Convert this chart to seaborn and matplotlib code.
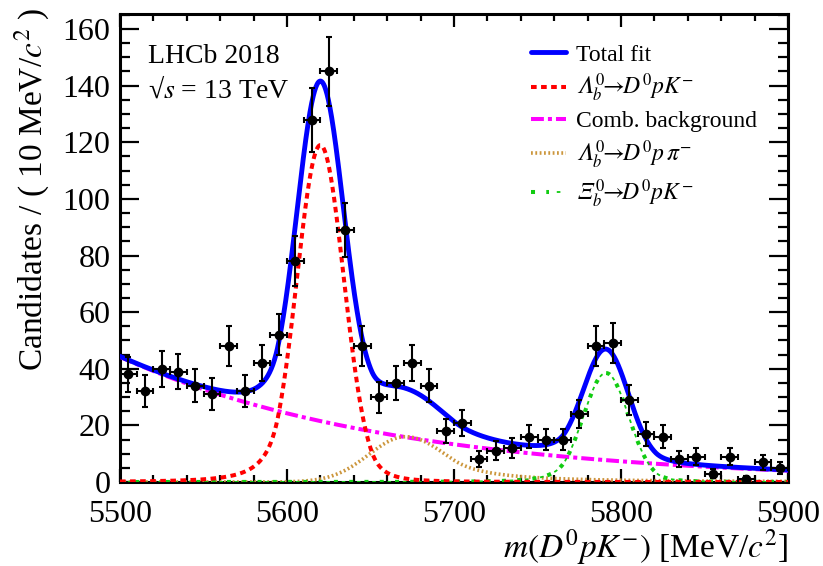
import numpy as np
import pandas as pd
import matplotlib
matplotlib.use("Agg")
import matplotlib.pyplot as plt
from matplotlib.ticker import MultipleLocator
from matplotlib.legend_handler import HandlerTuple
import seaborn as sns

# ---------------- data ----------------
bin_centers = [5505, 5515, 5525, 5535, 5545, 5555, 5565, 5575, 5585, 5595,
               5605, 5615, 5625, 5635, 5645, 5655, 5665, 5675, 5685, 5695,
               5705, 5715, 5725, 5735, 5745, 5755, 5765, 5775, 5785, 5795,
               5805, 5815, 5825, 5835, 5845, 5855, 5865, 5875, 5885, 5895]
counts = [38, 32, 40, 39, 34, 31, 48, 32, 42, 52,
          78, 128, 145, 89, 48, 30, 35, 42, 34, 18,
          21, 8, 11, 12, 16, 15, 15, 24, 48, 49,
          29, 17, 16, 8, 9, 3, 9, 1, 7, 5]
bin_half_width = 5

# fit-model parameters
comb_norm = 44.2          # combinatorial background at 5500
comb_slope = 0.006        # exponential slope per MeV
signal_means = [5620, 5791]     # Lambda_b, Xi_b
signal_sigmas = [14.0, 13.5]
signal_heights = [119.0, 38.5]
cb_tail = [1.8, 3.0, 2.2, 3.0]  # alphaL, nL, alphaR, nR
partreco_mean = 5671
partreco_height = 16.0
partreco_sigmas = [22.0, 24.0]
partreco_tail = [1.2, 2.0]

legend_labels = ["Total fit",
                 "$\U0001D6EC_b^0\\!\\!\\rightarrow\\!\\! D^0 pK^{-}$",
                 "Comb. background",
                 "$\U0001D6EC_b^0\\!\\!\\rightarrow\\!\\! D^0 p\\,\\pi^{-}$",
                 "$\U0001D6EF_b^0\\!\\!\\rightarrow\\!\\! D^0 pK^{-}$"]

# ---------------- model shapes ----------------
def dcb(x, mu, s, h, aL, nL, aR, nR):
    t = (x - mu) / s
    out = np.exp(-0.5 * t**2)
    AL = (nL / aL) ** nL * np.exp(-0.5 * aL**2); BL = nL / aL - aL
    AR = (nR / aR) ** nR * np.exp(-0.5 * aR**2); BR = nR / aR - aR
    m = t < -aL
    out[m] = AL * (BL - t[m]) ** (-nL)
    m = t > aR
    out[m] = AR * (BR + t[m]) ** (-nR)
    return h * out

def partreco(x, mu, h, sL, sR, a, n):
    out = np.empty_like(x)
    l = x < mu
    out[l] = np.exp(-0.5 * ((x[l] - mu) / sL) ** 2)
    t = (x[~l] - mu) / sR
    A = (n / a) ** n * np.exp(-0.5 * a**2); B = n / a - a
    out[~l] = np.where(t < a, np.exp(-0.5 * t**2), A * (B + np.clip(t, a, None)) ** (-n))
    return h * out

xg = np.linspace(5500, 5900, 1601)
comb = comb_norm * np.exp(-comb_slope * (xg - 5500))
lb = dcb(xg, signal_means[0], signal_sigmas[0], signal_heights[0], *cb_tail)
xib = dcb(xg, signal_means[1], signal_sigmas[1], signal_heights[1], *cb_tail)
pr = partreco(xg, partreco_mean, partreco_height, *partreco_sigmas, *partreco_tail)
total = comb + lb + xib + pr

curves = pd.DataFrame({"m": xg, "total": total, "lb": lb, "comb": comb, "pr": pr, "xib": xib})
data = pd.DataFrame({"m": bin_centers, "n": counts})
data["err"] = np.sqrt(data["n"])

# ---------------- styling ----------------
sns.set_theme(style="ticks")
plt.rcParams["font.family"] = ["Liberation Serif", "DejaVu Serif"]
plt.rcParams["mathtext.fontset"] = "stix"
for k in ["text.color", "axes.labelcolor", "xtick.color", "ytick.color",
          "xtick.labelcolor", "ytick.labelcolor", "axes.edgecolor"]:
    plt.rcParams[k] = "black"

fig = plt.figure(figsize=(8.23, 5.66), dpi=100)
ax = fig.add_axes([120 / 823, 1 - 482 / 566, 668 / 823, 468 / 566])

blue, red, mag, brown, green = "#0000ff", "#ff0000", "#ff00ff", "#cc963c", "#11cc11"

# green dash pattern: thick square dot + thin dash, same period (in points)
lw_dot, lw_dash = 2.9, 1.3
period = 11.0
dot_on = 2.9
dash_on, dash_start = 2.6, 5.6
green_dot_style = (0, (dot_on / lw_dot, (period - dot_on) / lw_dot))
green_dash_style = ((period - dash_start) / lw_dash,
                    (dash_on / lw_dash, (period - dash_on) / lw_dash))

sns.lineplot(data=curves, x="m", y="comb", ax=ax, color=mag, lw=2.9,
             linestyle=(0, (3.2, 1.0, 1.0, 1.0)), zorder=3)
sns.lineplot(data=curves, x="m", y="pr", ax=ax, color=brown, lw=2.6,
             linestyle=(0, (0.5, 0.7)), zorder=3)
sns.lineplot(data=curves, x="m", y="xib", ax=ax, color=green, lw=lw_dot,
             linestyle=green_dot_style, zorder=3)
sns.lineplot(data=curves, x="m", y="xib", ax=ax, color=green, lw=lw_dash,
             linestyle=green_dash_style, zorder=3)
sns.lineplot(data=curves, x="m", y="lb", ax=ax, color=red, lw=2.9,
             linestyle=(0, (1.4, 1.1)), zorder=4)
sns.lineplot(data=curves, x="m", y="total", ax=ax, color=blue, lw=3.5, zorder=5)

lines = ax.get_lines()
h_comb, h_pr, h_xa, h_xb, h_lb, h_tot = lines[:6]

ax.errorbar(data["m"], data["n"], yerr=data["err"], xerr=bin_half_width,
            fmt="o", color="black", ms=6, elinewidth=1.5, capsize=2.2,
            capthick=1.5, zorder=6)

ax.set_xlim(5500, 5900)
ax.set_ylim(0, 165.3)
ax.xaxis.set_major_locator(MultipleLocator(100))
ax.xaxis.set_minor_locator(MultipleLocator(20))
ax.yaxis.set_major_locator(MultipleLocator(20))
ax.yaxis.set_minor_locator(MultipleLocator(5))
ax.tick_params(which="both", direction="in", top=True, right=True, width=1.6, colors="black")
ax.tick_params(axis="x", which="major", length=9.5, pad=13, labelsize=23)
ax.tick_params(axis="x", which="minor", length=5)
ax.tick_params(axis="y", which="major", length=13.5, pad=7, labelsize=23)
ax.tick_params(axis="y", which="minor", length=7)
for sp in ax.spines.values():
    sp.set_linewidth(2.2)
    sp.set_color("black")
ax.set_xlabel("")
ax.set_ylabel("")

fig.text(788 / 823, 1 - 557 / 566, r"$m(D^0pK^{-})$ [MeV/$c^2$]", ha="right",
         va="baseline", fontsize=24)
fig.text(32 / 823, 1 - 8 / 566, r"Candidates / ( 10 MeV/$c^2$ )", rotation=90,
         ha="center", va="top", fontsize=24)

ax.text(0.042, 0.895, "LHCb 2018", transform=ax.transAxes, fontsize=20, va="baseline")
ax.text(0.042, 0.822, "\u221a$s$ = 13 TeV", transform=ax.transAxes, fontsize=20, va="baseline")

leg = ax.legend([h_tot, h_lb, h_comb, h_pr, (h_xa, h_xb)], legend_labels,
                handler_map={tuple: HandlerTuple(ndivide=None)},
                loc="upper left", bbox_to_anchor=((531 - 120) / 668, (482 - 44) / 468),
                frameon=False, fontsize=17, handlelength=1.5, handletextpad=0.4,
                labelspacing=0.27, borderpad=0, borderaxespad=0)

fig.savefig("out.png", dpi=100)
